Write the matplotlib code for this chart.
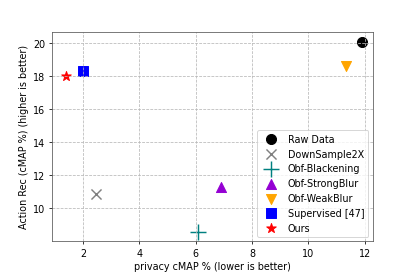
import matplotlib
matplotlib.use("Agg")
import matplotlib.pyplot as plt

labels = ["Raw Data", "DownSample2X", "Obf-Blackening", "Obf-StrongBlur",
          "Obf-WeakBlur", "Supervised [47]", "Ours"]
privacy = [11.9, 2.45, 6.1, 6.9, 11.35, 2.0, 1.4]
action = [20.1, 10.9, 8.6, 11.3, 18.65, 18.35, 18.0]
markers = ["o", "x", "+", "^", "v", "s", "*"]
colors = ["black", "gray", "teal", "darkviolet", "orange", "blue", "red"]
sizes = [110, 110, 250, 110, 110, 110, 110]

fig, ax = plt.subplots(figsize=(6, 4), dpi=69.2)
fig.subplots_adjust(left=0.125, right=0.899, top=0.882, bottom=0.125)
for lab, x, y, m, c, s in zip(labels, privacy, action, markers, colors, sizes):
    ax.scatter([x], [y], marker=m, c=c, s=s, label=lab,
               linewidths=1.5 if m in ("x", "+") else None)
ax.set_xlim(0.9, 12.3)
ax.set_ylim(8.0, 20.7)
ax.set_xticks([2, 4, 6, 8, 10, 12])
ax.set_yticks([10, 12, 14, 16, 18, 20])
ax.grid(True, linestyle="--", color="#b8b8b8")
for sp in ax.spines.values():
    sp.set_color("#555555")
ax.tick_params(labelsize=10)
ax.set_xlabel("privacy cMAP % (lower is better)", fontsize=10, labelpad=3)
ax.set_ylabel("Action Rec (cMAP %) (higher is better)", fontsize=10)
ax.legend(loc="lower right", fontsize=10)
fig.savefig("out.png", dpi=69.2)
